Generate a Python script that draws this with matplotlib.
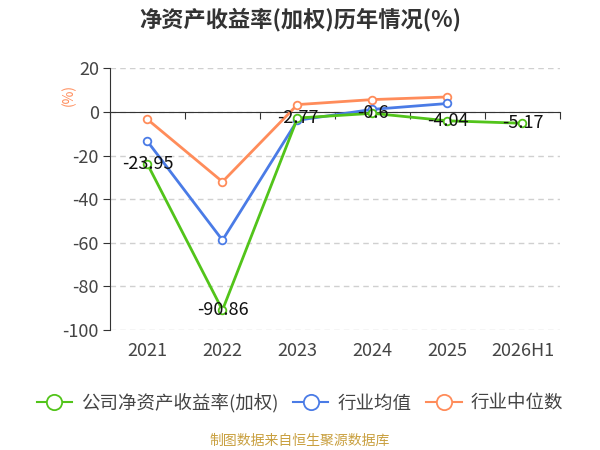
import matplotlib
matplotlib.use("Agg")
import matplotlib.pyplot as plt
from matplotlib.lines import Line2D
import numpy as np

plt.rcParams['font.family'] = ['Noto Sans CJK SC', 'DejaVu Sans']

categories = ['2021', '2022', '2023', '2024', '2025', '2026H1']
company = [-23.95, -90.86, -2.77, -0.6, -4.04, -5.17]
ind_mean = [-13.5, -58.8, -3.8, 1.2, 3.9]
ind_median = [-3.4, -32.0, 3.4, 5.7, 6.9]
yticks = [20, 0, -20, -40, -60, -80, -100]

c_green = '#52c41a'
c_blue = '#4a7be6'
c_orange = '#ff8c5a'

fig = plt.figure(figsize=(6, 4.5), dpi=100)
ax = fig.add_axes([0.1833, 0.2667, 0.75, 0.5813])

x = np.arange(len(categories))
xm = np.arange(len(ind_mean))

for xs, ys, c, z in [(xm, ind_median, c_orange, 3), (xm, ind_mean, c_blue, 4), (x, company, c_green, 5)]:
    ax.plot(xs, ys, color=c, lw=2, marker='o', ms=5.5, mfc='white', mec=c, mew=1.3, zorder=z)

for xi, v in zip(x, company):
    ax.text(xi, v, f'{v:g}', ha='center', va='center', fontsize=13, color='#111111', zorder=6)

ax.set_xlim(-0.5, len(categories) - 0.5)
ax.set_ylim(-100, 20)
ax.set_yticks(yticks)
ax.set_yticklabels([str(t) for t in yticks])
ax.grid(axis='y', color='#d0d0d0', ls=(0, (4, 3)), lw=1)
ax.set_axisbelow(True)

for s in ['top', 'right']:
    ax.spines[s].set_visible(False)
ax.spines['left'].set_color('#333333')
ax.spines['bottom'].set_position(('data', 0))
ax.spines['bottom'].set_color('#333333')
ax.spines['bottom'].set_zorder(2)

ax.set_xticks(np.arange(len(categories) + 1) - 0.5)
ax.set_xticklabels([])
ax.tick_params(axis='x', direction='out', length=5, color='#333333')
ax.tick_params(axis='y', direction='out', length=5, color='#333333', labelsize=13, labelcolor='#444444', pad=3)

sec = ax.secondary_xaxis('bottom')
sec.set_xticks(x)
sec.set_xticklabels(categories)
sec.tick_params(length=0, labelsize=13, labelcolor='#444444', pad=9)
sec.spines['bottom'].set_visible(False)

ax.set_ylabel('(%)', color=c_orange, fontsize=10, labelpad=2)
ax.yaxis.set_label_coords(-0.075, 0.9)

fig.text(0.5, 0.957, '净资产收益率(加权)历年情况(%)', ha='center', va='center', fontsize=16,
         fontweight='bold', color='#333333')

handles = [Line2D([0], [0], color=c, lw=1.5, marker='o', ms=11, mfc='white', mec=c, mew=1.3)
           for c in [c_green, c_blue, c_orange]]
fig.legend(handles, ['公司净资产收益率(加权)', '行业均值', '行业中位数'], loc='center',
           bbox_to_anchor=(0.5, 0.105), ncol=3, frameon=False, fontsize=13.3,
           handlelength=1.9, columnspacing=0.8, handletextpad=0.5, labelcolor='#444444')

fig.text(0.5, 0.02, '制图数据来自恒生聚源数据库', ha='center', va='center', fontsize=10, color='#c9a040')

fig.savefig('out.png', dpi=100)
